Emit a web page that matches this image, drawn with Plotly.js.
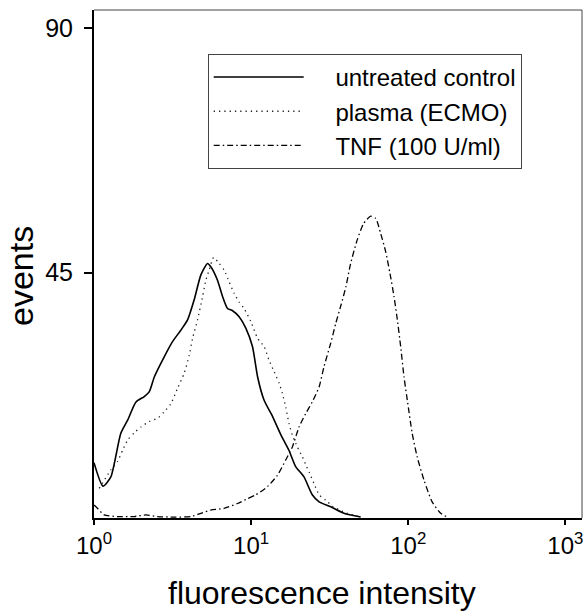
<!DOCTYPE html>
<html>
<head>
<meta charset="utf-8">
<script src="https://cdn.plot.ly/plotly-3.0.1.min.js"></script>
<style>html,body{margin:0;padding:0;background:#fff;}#chart{width:585px;height:615px;}</style>
</head>
<body>
<div id="chart"></div>
<script>
// untreated control
var controlX = [1.0, 1.14, 1.28, 1.48, 1.64, 1.85, 2.09, 2.25, 2.42, 2.73, 3.16, 3.57, 3.94, 4.34, 4.79, 5.28, 5.54, 6.11, 6.58, 7.08, 7.62, 8.39, 9.25, 10.2, 11.0, 12.1, 13.7, 15.5, 17.4, 19.2, 21.7, 24.5, 27.1, 32.1, 39, 49.8];
var controlY = [10.0, 5.7, 7.4, 15.4, 17.9, 21.2, 22.2, 23.1, 25.8, 28.9, 32.3, 34.4, 36.3, 40.0, 44.6, 46.7, 46.1, 43.6, 40.6, 38.4, 38.0, 36.9, 34.8, 31.4, 25.8, 21.5, 18.5, 15.1, 12.3, 9.3, 7.4, 4.1, 2.8, 1.9, 0.7, 0.0];
// plasma (ECMO)
var plasmaX = [1.08, 1.28, 1.41, 1.52, 1.64, 1.80, 1.99, 2.25, 2.54, 2.80, 3.09, 3.40, 3.75, 4.04, 4.24, 4.56, 4.91, 5.15, 5.41, 5.77, 6.26, 6.73, 7.25, 7.80, 8.39, 9.02, 9.96, 11.0, 12.1, 13.0, 14.0, 15.1, 15.8, 16.6, 17.4, 18.3, 19.7, 21.2, 22.3, 23.4, 25.1, 27.1, 29.9, 33, 40, 50];
var plasmaY = [5.3, 8.7, 10.2, 12.3, 14.2, 15.5, 16.6, 17.6, 18.2, 19.4, 20.9, 23.7, 26.5, 29.8, 32.9, 36.3, 40.6, 43.6, 45.5, 47.8, 46.7, 45.5, 43.3, 41.2, 39.6, 38.4, 36.0, 32.9, 31.4, 28.9, 26.8, 24.6, 22.8, 20.3, 17.3, 15.1, 12.9, 11.1, 9.6, 8.3, 6.2, 4.1, 3.1, 2.0, 0.8, 0.0];
// TNF (100 U/ml)
var tnfX = [1.0, 1.03, 1.16, 1.41, 1.8, 2.14, 2.54, 3.24, 4.14, 4.79, 5.54, 6.73, 8.19, 9.5, 10.7, 12.7, 14.7, 16.6, 18.3, 20.2, 22.3, 24.5, 27.1, 29.1, 32.1, 34.6, 37.3, 40.1, 43.0, 47.3, 52.1, 57.7, 62.1, 66.8, 71.8, 76.5, 81.2, 85.3, 89.5, 94, 98.7, 106, 114, 126, 142, 161, 177];
var tnfY = [2.2, 1.9, 0.4, 0.1, 0.1, 0.4, 0.1, 0.0, 0.1, 0.7, 1.3, 1.6, 2.5, 3.4, 4.1, 5.6, 7.7, 10.5, 12.9, 16.6, 19.1, 21.2, 24.0, 27.7, 32.0, 35.7, 39.0, 42.4, 46.7, 51.0, 54.1, 55.4, 55.0, 52.2, 48.9, 44.9, 40.6, 36.3, 31.4, 25.8, 21.5, 15.4, 11.1, 6.8, 2.8, 0.7, 0.0];

var seriesNames = ['untreated control', 'plasma (ECMO)', 'TNF (100 U/ml)'];
var xTickVals = [1, 10, 100, 1000];
var xTickText = ['10<sup>0</sup>', '10<sup>1</sup>', '10<sup>2</sup>', '10<sup>3</sup>'];
var yTickVals = [45, 90];
var yTickText = ['45', '90'];
var xTitle = 'fluorescence intensity';
var yTitle = 'events';

var FONT = 'Liberation Sans, Arial, Helvetica, sans-serif';
var PAD = '\u00a0\u00a0\u00a0\u00a0'; // gap between legend sample and label

var traces = [
  {x: controlX, y: controlY, name: PAD + seriesNames[0], mode: 'lines',
   line: {color: '#000', width: 1.6, shape: 'spline', smoothing: 0.6}},
  {x: plasmaX, y: plasmaY, name: PAD + seriesNames[1], mode: 'lines',
   line: {color: '#222', width: 1.3, dash: '1.3px,4px', shape: 'spline', smoothing: 0.6}},
  {x: tnfX, y: tnfY, name: PAD + seriesNames[2], mode: 'lines',
   line: {color: '#000', width: 1.3, dash: '6px,3px,1.5px,3px', shape: 'spline', smoothing: 0.6}}
];

var layout = {
  width: 585, height: 615,
  margin: {l: 94, r: 3, t: 10, b: 97, pad: 0},
  paper_bgcolor: '#fff', plot_bgcolor: '#fff',
  showlegend: true,
  font: {family: FONT, color: '#000'},
  xaxis: {
    type: 'log', range: [0, 3.106],
    tickmode: 'array', tickvals: xTickVals, ticktext: xTickText,
    ticks: 'outside', ticklen: 5, tickwidth: 2, tickcolor: '#000',
    showline: true, linewidth: 2, linecolor: '#000',
    showgrid: false, zeroline: false,
    tickfont: {size: 24, family: FONT, color: '#000'}
  },
  yaxis: {
    range: [-0.17, 93.37],
    tickmode: 'array', tickvals: yTickVals, ticktext: yTickText,
    ticks: 'outside', ticklen: 8, tickwidth: 2, tickcolor: '#000',
    showline: true, linewidth: 2, linecolor: '#000',
    showgrid: false, zeroline: false,
    ticklabelstandoff: 6,
    tickfont: {size: 25, family: FONT, color: '#000'}
  },
  legend: {
    x: 0.233, y: 0.9135, xanchor: 'left', yanchor: 'top',
    bgcolor: 'rgba(255,255,255,0)', bordercolor: '#444', borderwidth: 1,
    font: {size: 24, family: FONT, color: '#000'},
    itemwidth: 90, tracegroupgap: 0
  },
  shapes: [
    {type: 'line', xref: 'paper', yref: 'paper', x0: 0, x1: 1, y0: 1, y1: 1, line: {color: '#444', width: 1}},
    {type: 'line', xref: 'paper', yref: 'paper', x0: 1, x1: 1, y0: 0, y1: 1, line: {color: '#444', width: 1}}
  ],
  annotations: [
    {text: xTitle, xref: 'paper', yref: 'paper', x: (322 - 94) / 488, y: -(593 - 518) / 508,
     xanchor: 'center', yanchor: 'middle', showarrow: false,
     font: {size: 32, family: FONT, color: '#000'}},
    {text: yTitle, xref: 'paper', yref: 'paper', x: (21 - 94) / 488, y: (518 - 276) / 508,
     xanchor: 'center', yanchor: 'middle', showarrow: false, textangle: -90,
     font: {size: 34, family: FONT, color: '#000'}}
  ]
};

Plotly.newPlot('chart', traces, layout, {staticPlot: true, displayModeBar: false});
</script>
</body>
</html>
